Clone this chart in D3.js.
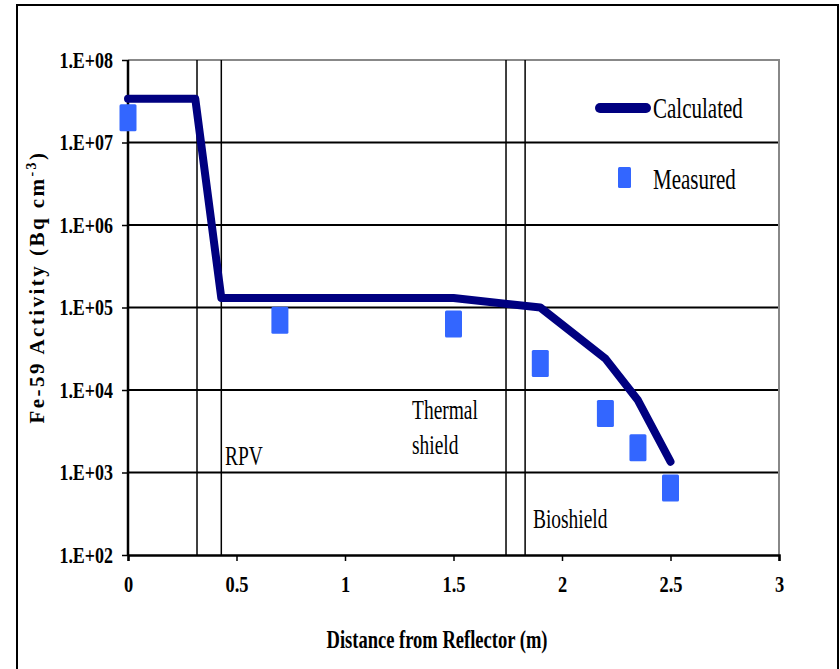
<!DOCTYPE html>
<html>
<head>
<meta charset="utf-8">
<script src="https://cdn.jsdelivr.net/npm/d3@7"></script>
<style>
  body { margin: 0; background: #fff; }
  text { font-family: "Liberation Serif", "Times New Roman", serif; }
</style>
</head>
<body>
<svg></svg>
<script>
const width = 840;
const height = 669;

// calculated profile
const calcX = [0, 0.31, 0.43, 1.0, 1.5, 1.9, 2.2, 2.35, 2.5];
const calcY = [3.4e7, 3.4e7, 1.3e5, 1.3e5, 1.3e5, 1.0e5, 2.4e4, 7.5e3, 1.35e3];

// measured points
const measX = [0, 0.7, 1.5, 1.9, 2.2, 2.35, 2.5];
const measY = [2.0e7, 7.0e4, 6.3e4, 2.1e4, 5.2e3, 2.0e3, 6.5e2];

// region boundaries (m)
const boundaries = [0.318, 0.43, 1.742, 1.83];
const regionLabels = [
    { lines: ['RPV'], x: 0.447, y: 1.23e3 },
    { lines: ['Thermal', 'shield'], x: 1.309, y: 4.45e3 },
    { lines: ['Bioshield'], x: 1.866, y: 2.12e2 }
];

const xTicks = [0, 0.5, 1, 1.5, 2, 2.5, 3];
const xTickLabels = ['0', '0.5', '1', '1.5', '2', '2.5', '3'];
const yTicks = [1e2, 1e3, 1e4, 1e5, 1e6, 1e7, 1e8];
const yTickLabels = ['1.E+02', '1.E+03', '1.E+04', '1.E+05', '1.E+06', '1.E+07', '1.E+08'];

const margin = { left: 128, right: 61, top: 60, bottom: 114 };

const svg = d3.select('svg')
    .attr('width', width).attr('height', height);

// squeeze text horizontally like the narrow source font
function condense(sel, k) {
    sel.each(function () {
        const len = this.getComputedTextLength();
        d3.select(this).attr('textLength', len * k).attr('lengthAdjust', 'spacingAndGlyphs');
    });
}

// outer frame
svg.append('rect')
    .attr('x', 17).attr('y', 5)
    .attr('width', 821).attr('height', 680)
    .attr('fill', 'none').attr('stroke', '#000').attr('stroke-width', 2);

const x = d3.scaleLinear().domain([0, 3]).range([margin.left, width - margin.right]);
const y = d3.scaleLog().domain([1e2, 1e8]).range([height - margin.bottom, margin.top]);

// gridlines
svg.append('g')
    .selectAll('line')
    .data(yTicks.slice(1, -1))
    .enter().append('line')
    .attr('x1', x(0)).attr('x2', x(3))
    .attr('y1', d => y(d)).attr('y2', d => y(d))
    .style('stroke', '#000').style('stroke-width', 2);

// top and right plot border (gray)
svg.append('path')
    .attr('d', `M${x(0)},${y(1e8)}H${x(3)}V${y(1e2)}`)
    .style('fill', 'none').style('stroke', '#888').style('stroke-width', 2);

// region boundaries
svg.append('g')
    .selectAll('line')
    .data(boundaries)
    .enter().append('line')
    .attr('x1', d => x(d)).attr('x2', d => x(d))
    .attr('y1', y(1e8)).attr('y2', y(1e2))
    .style('stroke', '#000').style('stroke-width', 1.5);

// axes
const xAxis = svg.append('g')
    .attr('transform', `translate(0,${y(1e2)})`)
    .call(d3.axisBottom(x).tickValues(xTicks).tickFormat((d, i) => xTickLabels[i]).tickSize(6).tickPadding(15));
const yAxis = svg.append('g')
    .attr('transform', `translate(${x(0)},0)`)
    .call(d3.axisLeft(y).tickValues(yTicks).tickFormat((d, i) => yTickLabels[i]).tickSize(6).tickPadding(9));

[xAxis, yAxis].forEach(g => {
    g.select('.domain').style('stroke', '#000').style('stroke-width', 2.5);
    g.selectAll('.tick line').style('stroke', '#000').style('stroke-width', 1.5);
    g.selectAll('.tick text')
        .style('font-family', '"Liberation Serif", serif')
        .style('font-weight', 'bold')
        .style('font-size', '23px')
        .style('fill', '#000');
});
yAxis.select('.domain').attr('d', `M0,${y(1e2)}V${y(1e8)}`);
condense(yAxis.selectAll('.tick text'), 0.78);
condense(xAxis.selectAll('.tick text'), 0.8);

// calculated line
const line = d3.line()
    .x((d, i) => x(calcX[i]))
    .y(d => y(d));
svg.append('path')
    .datum(calcY)
    .attr('d', line)
    .style('fill', 'none')
    .style('stroke', '#000080')
    .style('stroke-width', 8)
    .style('stroke-linejoin', 'round')
    .style('stroke-linecap', 'round');

// measured markers
svg.append('g')
    .selectAll('rect')
    .data(measY)
    .enter().append('rect')
    .attr('x', (d, i) => x(measX[i]) - 8.5)
    .attr('y', d => y(d) - 13.5)
    .attr('width', 17).attr('height', 27)
    .attr('rx', 1.5)
    .style('fill', '#3366ff');

// region labels
regionLabels.forEach(r => {
    const t = svg.append('text')
        .attr('x', x(r.x)).attr('y', y(r.y))
        .style('font-size', '27px')
        .style('fill', '#000');
    r.lines.forEach((s, i) => {
        t.append('tspan').attr('x', x(r.x)).attr('dy', i === 0 ? 0 : 35).text(s);
    });
    condense(t.selectAll('tspan'), 0.72);
});

// legend
const legend = svg.append('g');
legend.append('line')
    .attr('x1', 600).attr('x2', 646).attr('y1', 108).attr('y2', 108)
    .style('stroke', '#000080').style('stroke-width', 10).style('stroke-linecap', 'round');
legend.append('rect')
    .attr('x', 618).attr('y', 167).attr('width', 13).attr('height', 21).attr('rx', 1.5)
    .style('fill', '#3366ff');
[['Calculated', 118], ['Measured', 189]].forEach(([s, yy]) => {
    const t = legend.append('text')
        .attr('x', 653).attr('y', yy)
        .style('font-size', '30px')
        .style('fill', '#000')
        .text(s);
    condense(t, 0.7);
});

// x axis title
const xt = svg.append('text')
    .attr('x', 437).attr('y', 648)
    .attr('text-anchor', 'middle')
    .style('font-size', '26px').style('font-weight', 'bold')
    .text('Distance from Reflector (m)');
xt.attr('textLength', 221).attr('lengthAdjust', 'spacingAndGlyphs');

// y axis title
const yt = svg.append('text')
    .attr('transform', `translate(44,287) rotate(-90)`)
    .attr('text-anchor', 'middle')
    .style('font-size', '21px').style('font-weight', 'bold');
yt.append('tspan').text('Fe-59 Activity (Bq cm');
yt.append('tspan').attr('dy', -8).style('font-size', '14px').text('-3');
yt.append('tspan').attr('dy', 8).text(')');
const ytLen = yt.node().getComputedTextLength();
yt.style('letter-spacing', `${(273 - ytLen) / 24}px`);
</script>
</body>
</html>
